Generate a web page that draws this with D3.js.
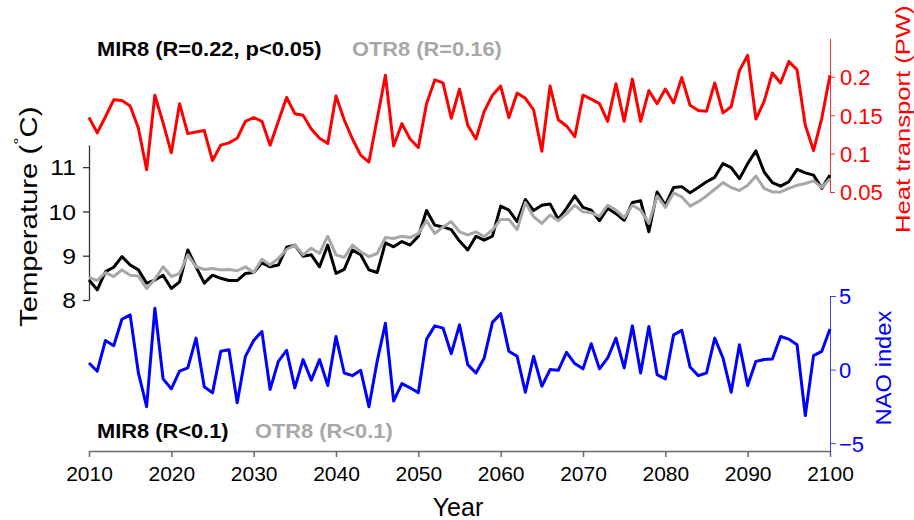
<!DOCTYPE html>
<html>
<head>
<meta charset="utf-8">
<script src="https://cdn.jsdelivr.net/npm/d3@7"></script>
<style>
  body { margin: 0; background: #fff; }
  svg { display: block; }
  text { font-family: "Liberation Sans", Arial, Helvetica, sans-serif; }
</style>
</head>
<body>
<svg id="chart" width="914" height="520"></svg>
<script>
// Years 2010-2100
const years = d3.range(2010, 2101);

// Ocean heat transport (PW)
const heatTransport = [
  0.147, 0.127, 0.148, 0.170, 0.169, 0.162, 0.133, 0.079, 0.176, 0.140,
  0.101, 0.165, 0.126, 0.128, 0.130, 0.091, 0.111, 0.114, 0.120, 0.142,
  0.147, 0.142, 0.111, 0.142, 0.173, 0.152, 0.150, 0.132, 0.120, 0.113,
  0.175, 0.144, 0.119, 0.098, 0.089, 0.145, 0.202, 0.110, 0.139, 0.119,
  0.108, 0.165, 0.196, 0.192, 0.146, 0.184, 0.137, 0.119, 0.155, 0.176,
  0.188, 0.147, 0.179, 0.172, 0.157, 0.103, 0.188, 0.144, 0.136, 0.122,
  0.176, 0.171, 0.165, 0.142, 0.191, 0.142, 0.197, 0.142, 0.182, 0.165,
  0.184, 0.166, 0.199, 0.163, 0.156, 0.155, 0.192, 0.153, 0.161, 0.208,
  0.228, 0.145, 0.168, 0.205, 0.192, 0.220, 0.209, 0.137, 0.104, 0.146,
  0.202
];

// Temperature (°C), MIR8
const tempMIR8 = [
  8.45, 8.23, 8.64, 8.74, 8.98, 8.79, 8.68, 8.38, 8.45, 8.56,
  8.26, 8.41, 9.13, 8.75, 8.38, 8.56, 8.49, 8.44, 8.44, 8.60,
  8.62, 8.84, 8.75, 8.79, 9.19, 9.24, 8.99, 9.02, 8.75, 9.24,
  8.60, 8.69, 9.13, 9.02, 8.68, 8.62, 9.29, 9.20, 9.32, 9.24,
  9.44, 10.02, 9.69, 9.65, 9.59, 9.33, 9.13, 9.44, 9.35, 9.44,
  10.12, 10.03, 9.77, 10.27, 10.02, 10.14, 10.17, 9.82, 10.07, 10.35,
  10.09, 10.03, 9.79, 10.07, 9.95, 9.80, 10.20, 10.24, 9.54, 10.44,
  10.14, 10.54, 10.56, 10.42, 10.54, 10.67, 10.77, 11.08, 10.99, 10.74,
  11.08, 11.37, 10.89, 10.65, 10.57, 10.67, 10.95, 10.87, 10.82, 10.52,
  10.82
];

// Temperature (°C), OTR8
const tempOTR8 = [
  8.51, 8.44, 8.62, 8.53, 8.68, 8.56, 8.54, 8.26, 8.47, 8.75,
  8.53, 8.60, 9.02, 8.75, 8.69, 8.71, 8.68, 8.69, 8.66, 8.75,
  8.62, 8.92, 8.79, 8.94, 9.14, 9.24, 9.02, 9.17, 9.05, 9.44,
  9.02, 8.96, 9.24, 9.09, 8.98, 9.05, 9.41, 9.39, 9.44, 9.41,
  9.50, 9.79, 9.50, 9.65, 9.77, 9.54, 9.47, 9.54, 9.43, 9.58,
  9.82, 9.82, 9.59, 10.20, 9.88, 9.73, 9.92, 9.79, 9.95, 10.14,
  9.99, 9.97, 9.89, 10.14, 10.03, 9.86, 10.14, 10.03, 9.73, 10.35,
  10.09, 10.42, 10.33, 10.12, 10.22, 10.35, 10.50, 10.65, 10.54, 10.47,
  10.59, 10.80, 10.52, 10.44, 10.44, 10.52, 10.59, 10.63, 10.69, 10.54,
  10.74
];

// NAO index
const naoIndex = [
  0.45, -0.11, 1.98, 1.62, 3.42, 3.72, -0.23, -2.52, 4.17, -0.63,
  -1.31, -0.11, 0.11, 2.14, -1.17, -1.58, 1.24, 1.35, -2.25, 0.90,
  1.98, 2.59, -1.35, 0.56, 1.31, -1.24, 0.68, -0.72, 0.68, -1.08,
  2.25, -0.23, -0.41, -0.05, -2.52, 0.56, 3.15, -2.14, -0.95, -1.24,
  -1.58, 2.07, 2.97, 2.82, 1.08, 3.04, 0.34, -0.23, 0.79, 3.21,
  3.80, 1.24, 0.90, -1.54, 0.90, -1.13, 0.00, -0.05, 1.17, 0.41,
  0.05, 1.76, 0.05, 0.79, 2.14, 0.11, 2.97, -0.23, 2.93, -0.34,
  -0.63, 2.36, 2.66, 0.18, -0.41, -0.23, 2.14, 0.79, -1.54, 1.69,
  -1.08, 0.56, 0.68, 0.72, 2.25, 2.07, 1.69, -3.12, 0.95, 1.24,
  2.76
];

// Tick values
const yearTicks = [2010, 2020, 2030, 2040, 2050, 2060, 2070, 2080, 2090, 2100];
const tempTicks = [8, 9, 10, 11];
const heatTicks = [0.05, 0.1, 0.15, 0.2];
const naoTicks = [-5, 0, 5];

const svg = d3.select("#chart");

// Scales
const x = d3.scaleLinear().domain([2010, 2100]).range([89, 830]);
const yTemp = d3.scaleLinear().domain([8, 11.5]).range([300, 145]);
const yHeat = d3.scaleLinear().domain([0.05, 0.25]).range([192, 38.4]);
const yNao = d3.scaleLinear().domain([-5.6, 5]).range([452, 296]);

const RED = "#ff0000", BLUE = "#0000ff", GREY = "#a8a8a8";

// Axes
function styleAxis(g, color, width) {
  g.select(".domain").attr("stroke", color).attr("stroke-width", width);
  g.selectAll(".tick line").attr("stroke", color).attr("stroke-width", width);
}

// Bottom year axis
const gx = svg.append("g").attr("transform", "translate(0,451)")
  .call(d3.axisBottom(x).tickValues(yearTicks).tickFormat(d3.format("d"))
    .tickSize(6).tickSizeOuter(0));
styleAxis(gx, "#6a6a6a", 1.5);
gx.selectAll(".tick text").attr("y", 30).attr("dy", 0)
  .attr("fill", "#000").style("font-size", "21px");

// Left temperature axis
const gt = svg.append("g").attr("transform", "translate(89,0)")
  .call(d3.axisLeft(yTemp).tickValues(tempTicks).tickFormat(d3.format("d"))
    .tickSize(6).tickSizeOuter(0));
styleAxis(gt, "#333", 1.3);
gt.selectAll(".tick text").attr("x", 0).attr("dy", "0.36em")
  .attr("transform", "translate(-13,0) scale(1.15,1)")
  .attr("fill", "#000").style("font-size", "21.5px");

// Right heat transport axis
const gh = svg.append("g").attr("transform", "translate(830,0)")
  .call(d3.axisRight(yHeat).tickValues(heatTicks).tickFormat(d => String(d))
    .tickSize(5).tickSizeOuter(0));
styleAxis(gh, "#ff3030", 1);
gh.selectAll(".tick text").attr("x", 10).attr("dy", "0.36em")
  .attr("fill", RED).style("font-size", "22px");

// Right NAO axis
const gn = svg.append("g").attr("transform", "translate(830,0)")
  .call(d3.axisRight(yNao).tickValues(naoTicks).tickFormat(d3.format("d"))
    .tickSize(6).tickSizeOuter(0));
styleAxis(gn, "#4040ff", 1);
gn.selectAll(".tick text").attr("x", 9).attr("dy", "0.36em")
  .attr("fill", BLUE).style("font-size", "22px");
svg.selectAll("g").attr("font-family", null).attr("font-size", null);

// Series lines
function drawLine(values, yScale, color) {
  const line = d3.line().x((d, i) => x(years[i])).y(d => yScale(d));
  svg.append("path").datum(values)
    .attr("d", line)
    .attr("fill", "none")
    .attr("stroke", color)
    .attr("stroke-width", 3)
    .attr("stroke-linejoin", "round");
}
drawLine(tempMIR8, yTemp, "#000");
drawLine(tempOTR8, yTemp, GREY);
drawLine(heatTransport, yHeat, RED);
drawLine(naoIndex, yNao, BLUE);

// Legends
function legend(txt, px, py, color) {
  svg.append("text")
    .attr("transform", `translate(${px},${py}) scale(1.12,1)`)
    .attr("fill", color)
    .style("font-size", "19.5px").style("font-weight", "bold")
    .text(txt);
}
legend("MIR8 (R=0.22, p<0.05)", 97, 56, "#000");
legend("OTR8 (R=0.16)", 352, 56, GREY);
legend("MIR8 (R<0.1)", 97, 438, "#000");
legend("OTR8 (R<0.1)", 255, 438, GREY);

// Axis titles
svg.append("text")
  .attr("x", 458).attr("y", 516)
  .attr("text-anchor", "middle")
  .style("font-size", "25px")
  .text("Year");

const tt = svg.append("text")
  .attr("transform", "translate(37,327) rotate(-90) scale(1.22,1)")
  .style("font-size", "24px")
  .attr("fill", "#000");
tt.append("tspan").text("Temperature (");
tt.append("tspan").attr("dy", -13).style("font-size", "15px").text("°");
tt.append("tspan").attr("dy", 13).text("C)");

svg.append("text")
  .attr("transform", "translate(910,233) rotate(-90) scale(1.22,1)")
  .style("font-size", "21px")
  .attr("fill", RED)
  .text("Heat transport (PW)");

svg.append("text")
  .attr("transform", "translate(891,368) rotate(-90) scale(1.08,1)")
  .attr("text-anchor", "middle")
  .style("font-size", "22px")
  .attr("fill", BLUE)
  .text("NAO index");
</script>
</body>
</html>
